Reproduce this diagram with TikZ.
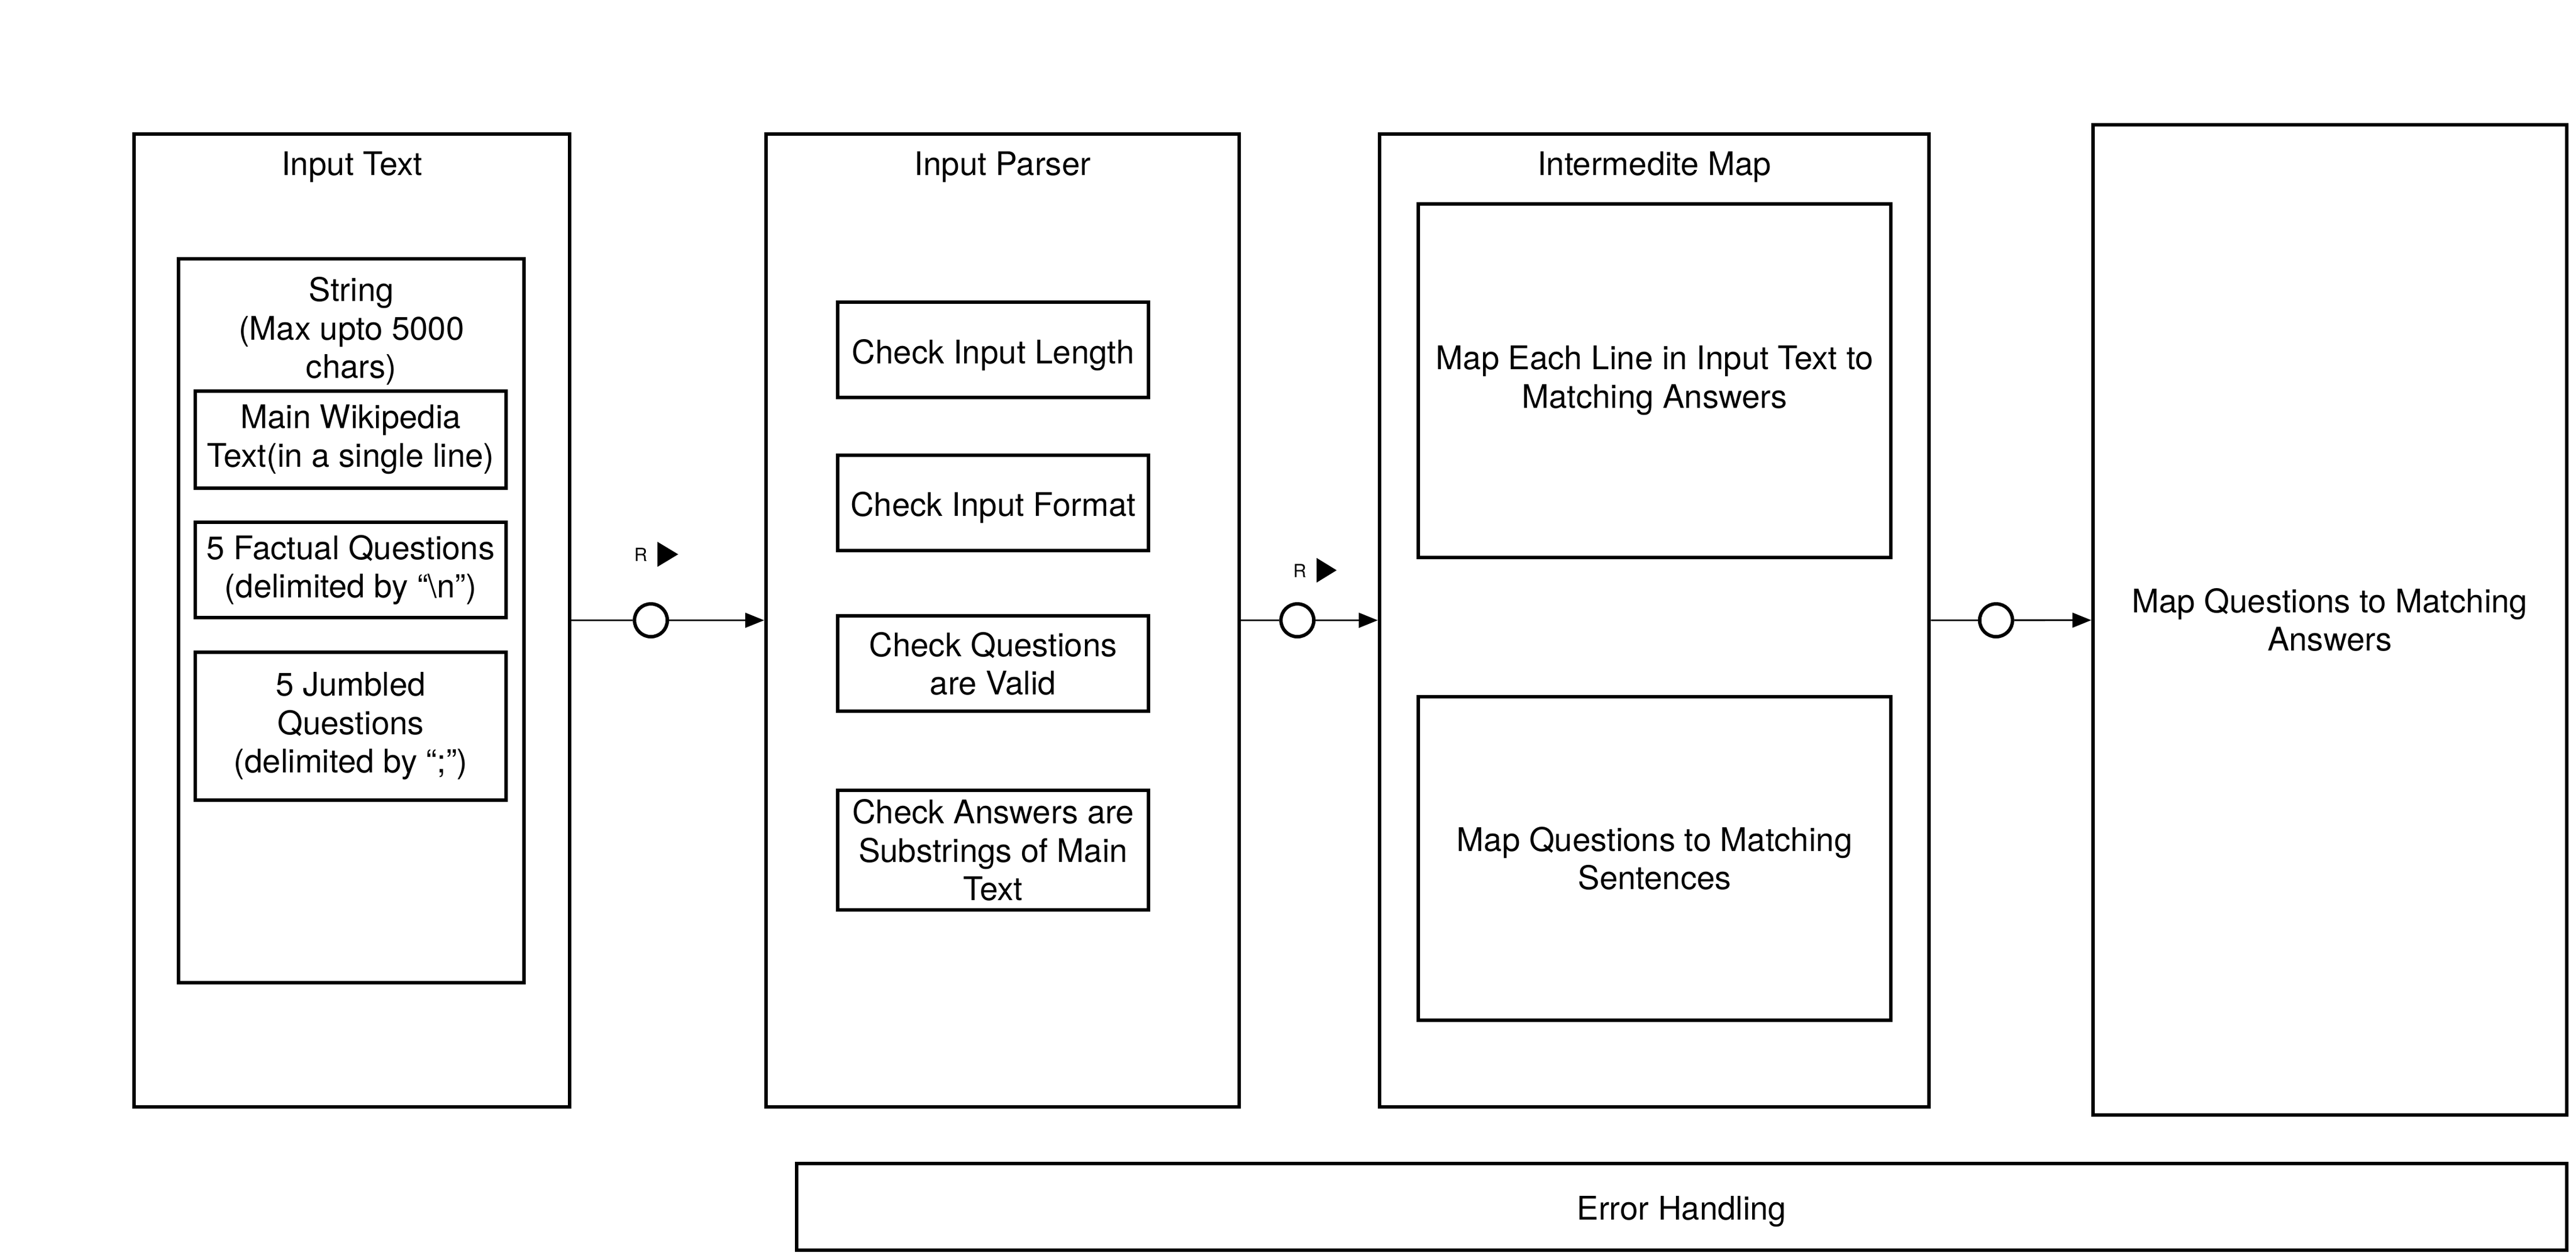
\documentclass[tikz,border=0pt]{standalone}
\usepackage{fontspec}
\setmainfont{TeX Gyre Heros}
\usetikzlibrary{fit,arrows.meta}

\begin{document}
\begin{tikzpicture}[x=0.5pt,y=0.5pt,yscale=-1,xscale=1,
  box/.style={draw, line width=1.05pt, inner sep=0pt},
  lab/.style={inner sep=0pt, align=center, font=\fontsize{9.9}{11.7}\selectfont},
  inlab/.style={lab, yshift=-1.5pt},
  title/.style={lab, anchor=base},
  ring/.style={draw, circle, line width=1.05pt, minimum size=10pt, inner sep=0pt, fill=white},
  link/.style={line width=0.5pt},
  rmark/.style={inner sep=0pt, font=\fontsize{5.5}{6.6}\selectfont}]
\useasboundingbox (0,0) rectangle (1568,766.6);

%Input Text block
\node (intext) [box, fit={(81.7,81.5) (346.7,673.6)}] {};
\node (intitle) [title] at (214.2,106.7) {Input Text};
\node (strbox) [box, fit={(108.8,157.7) (319,598)}] {};
\node (strlab) [lab, anchor=north] at (213.9,168.2) {String\\(Max upto 5000\\chars)};
\node (wiki) [box, fit={(119,238) (308,297)}] {};
\node (wikilab) [lab] at (wiki.center) {Main Wikipedia\\Text(in a single line)};
\node (factual) [box, fit={(119,318) (308,376)}] {};
\node (factlab) [lab] at (factual.center) {5 Factual Questions\\(delimited by “\textbackslash n”)};
\node (jumbled) [box, fit={(119,397) (308,487)}] {};
\node (jumblab) [lab] at (jumbled.center) {5 Jumbled\\Questions\\(delimited by “;”)};

%Input Parser block
\node (parser) [box, fit={(466.2,81.5) (754.3,673.6)}] {};
\node (partitle) [title] at (610.25,106.7) {Input Parser};
\node (chklen) [box, fit={(510,184) (699,242)}] {};
\node (lenlab) [inlab] at (chklen.center) {Check Input Length};
\node (chkfmt) [box, fit={(510,277) (699,335)}] {};
\node (fmtlab) [inlab] at (chkfmt.center) {Check Input Format};
\node (chkques) [box, fit={(510,375) (699,433)}] {};
\node (queslab) [lab] at (chkques.center) {Check Questions\\are Valid};
\node (chkans) [box, fit={(510,481) (699,554)}] {};
\node (anslab) [lab] at (chkans.center) {Check Answers are\\Substrings of Main\\Text};

%Intermedite Map block
\node (intmap) [box, fit={(839.7,81.5) (1174.3,673.6)}] {};
\node (maptitle) [title] at (1007,106.7) {Intermedite Map};
\node (mapline) [box, fit={(863.3,124) (1151,339.3)}] {};
\node (linelab) [lab] at (mapline.center) {Map Each Line in Input Text to\\Matching Answers};
\node (mapsent) [box, fit={(863.3,424) (1151,621)}] {};
\node (sentlab) [lab] at (mapsent.center) {Map Questions to Matching\\Sentences};

%Final map and error handling
\node (mapans) [box, fit={(1274,76) (1562.3,678.6)}] {};
\node (anslab2) [lab] at (mapans.center) {Map Questions to Matching\\Answers};
\node (errors) [box, fit={(484.9,708.1) (1562.3,760.9)}] {};
\node (errlab) [inlab] at (errors.center) {Error Handling};

%Connectors
\node (ring1) [ring] at (396.2,377.55) {};
\node (ring2) [ring] at (789.7,377.55) {};
\node (ring3) [ring] at (1215,377.55) {};
\draw [link] (intext) -- (ring1);
\draw [link, -{Triangle[length=5.75pt,width=4.5pt]}] (ring1) -- (parser);
\draw [link] (parser) -- (ring2);
\draw [link, -{Triangle[length=5.75pt,width=4.5pt]}] (ring2) -- (intmap);
\draw [link] (intmap) -- (ring3);
\draw [link, -{Triangle[length=5.75pt,width=4.5pt]}] (ring3) -- (mapans);

%R markers
\node (rlab1) [rmark] at (390,337.5) {R};
\fill (400.2,329.8) -- (412.8,337.4) -- (400.2,345) -- cycle;
\node (rlab2) [rmark] at (791.2,347.5) {R};
\fill (801.4,339.6) -- (813.6,347.1) -- (801.4,354.6) -- cycle;

\end{tikzpicture}
\end{document}
